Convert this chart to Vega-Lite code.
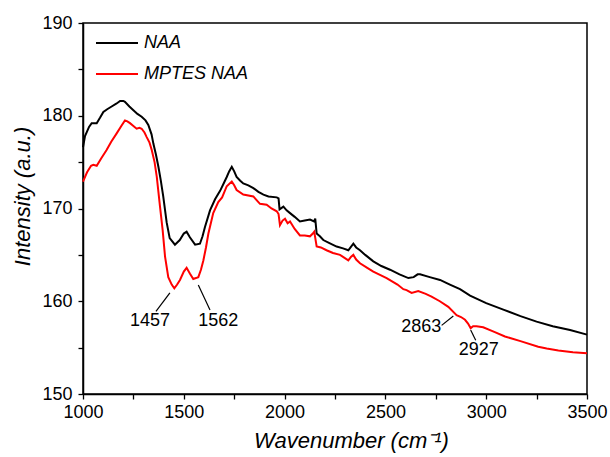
{
  "$schema": "https://vega.github.io/schema/vega-lite/v6.json",
  "width": 504,
  "height": 371,
  "autosize": {"type": "none"},
  "padding": {"left": 83, "top": 23, "right": 23, "bottom": 63},
  "background": "white",
  "config": {
    "view": {"stroke": "black", "strokeWidth": 1.5},
    "font": "Liberation Sans",
    "axis": {
      "grid": false,
      "ticks": true,
      "domainColor": "black",
      "domainWidth": 1.5,
      "tickColor": "black",
      "tickWidth": 1.3,
      "tickSize": 5,
      "labelColor": "black",
      "labelFont": "Liberation Sans",
      "labelFontSize": 18,
      "titleFont": "Liberation Sans",
      "titleFontSize": 22,
      "titleFontStyle": "italic",
      "titleFontWeight": "normal",
      "titleColor": "black"
    }
  },
  "datasets": {
    "spectra": [
      {"wn": 1000, "v": 176.6, "s": "NAA"}, {"wn": 1010, "v": 177.8, "s": "NAA"}, {"wn": 1030, "v": 178.8, "s": "NAA"},
      {"wn": 1043, "v": 179.2, "s": "NAA"}, {"wn": 1068, "v": 179.2, "s": "NAA"}, {"wn": 1085, "v": 179.8, "s": "NAA"},
      {"wn": 1101, "v": 180.4, "s": "NAA"}, {"wn": 1120, "v": 180.7, "s": "NAA"}, {"wn": 1142, "v": 181.0, "s": "NAA"},
      {"wn": 1165, "v": 181.3, "s": "NAA"}, {"wn": 1184, "v": 181.6, "s": "NAA"}, {"wn": 1200, "v": 181.6, "s": "NAA"},
      {"wn": 1208, "v": 181.5, "s": "NAA"}, {"wn": 1230, "v": 181.0, "s": "NAA"}, {"wn": 1250, "v": 180.6, "s": "NAA"},
      {"wn": 1270, "v": 180.2, "s": "NAA"}, {"wn": 1291, "v": 179.9, "s": "NAA"}, {"wn": 1310, "v": 179.5, "s": "NAA"},
      {"wn": 1324, "v": 179.0, "s": "NAA"}, {"wn": 1340, "v": 178.0, "s": "NAA"}, {"wn": 1349, "v": 177.0, "s": "NAA"},
      {"wn": 1362, "v": 175.8, "s": "NAA"}, {"wn": 1374, "v": 174.5, "s": "NAA"}, {"wn": 1386, "v": 173.0, "s": "NAA"},
      {"wn": 1398, "v": 171.3, "s": "NAA"}, {"wn": 1415, "v": 168.5, "s": "NAA"}, {"wn": 1430, "v": 166.8, "s": "NAA"},
      {"wn": 1456, "v": 166.1, "s": "NAA"}, {"wn": 1480, "v": 166.6, "s": "NAA"}, {"wn": 1500, "v": 167.3, "s": "NAA"},
      {"wn": 1514, "v": 167.5, "s": "NAA"}, {"wn": 1530, "v": 166.9, "s": "NAA"}, {"wn": 1556, "v": 166.1, "s": "NAA"},
      {"wn": 1580, "v": 166.2, "s": "NAA"}, {"wn": 1593, "v": 167.0, "s": "NAA"}, {"wn": 1605, "v": 168.0, "s": "NAA"},
      {"wn": 1630, "v": 169.8, "s": "NAA"}, {"wn": 1655, "v": 171.0, "s": "NAA"}, {"wn": 1680, "v": 171.9, "s": "NAA"},
      {"wn": 1700, "v": 172.8, "s": "NAA"}, {"wn": 1713, "v": 173.4, "s": "NAA"}, {"wn": 1725, "v": 174.0, "s": "NAA"},
      {"wn": 1738, "v": 174.5, "s": "NAA"}, {"wn": 1750, "v": 174.0, "s": "NAA"}, {"wn": 1762, "v": 173.4, "s": "NAA"},
      {"wn": 1780, "v": 173.0, "s": "NAA"}, {"wn": 1795, "v": 172.7, "s": "NAA"}, {"wn": 1820, "v": 172.5, "s": "NAA"},
      {"wn": 1845, "v": 172.2, "s": "NAA"}, {"wn": 1870, "v": 171.8, "s": "NAA"}, {"wn": 1895, "v": 171.5, "s": "NAA"},
      {"wn": 1920, "v": 171.3, "s": "NAA"}, {"wn": 1961, "v": 171.2, "s": "NAA"}, {"wn": 1970, "v": 171.1, "s": "NAA"},
      {"wn": 1975, "v": 169.9, "s": "NAA"}, {"wn": 1994, "v": 170.2, "s": "NAA"}, {"wn": 2010, "v": 169.8, "s": "NAA"},
      {"wn": 2027, "v": 169.5, "s": "NAA"}, {"wn": 2050, "v": 169.1, "s": "NAA"}, {"wn": 2076, "v": 168.6, "s": "NAA"},
      {"wn": 2100, "v": 168.7, "s": "NAA"}, {"wn": 2126, "v": 168.8, "s": "NAA"}, {"wn": 2146, "v": 168.6, "s": "NAA"},
      {"wn": 2152, "v": 168.9, "s": "NAA"}, {"wn": 2159, "v": 167.3, "s": "NAA"}, {"wn": 2175, "v": 167.0, "s": "NAA"},
      {"wn": 2192, "v": 166.6, "s": "NAA"}, {"wn": 2220, "v": 166.3, "s": "NAA"}, {"wn": 2258, "v": 165.9, "s": "NAA"},
      {"wn": 2290, "v": 165.7, "s": "NAA"}, {"wn": 2316, "v": 165.5, "s": "NAA"}, {"wn": 2330, "v": 165.9, "s": "NAA"},
      {"wn": 2341, "v": 166.2, "s": "NAA"}, {"wn": 2355, "v": 165.8, "s": "NAA"}, {"wn": 2374, "v": 165.5, "s": "NAA"},
      {"wn": 2400, "v": 165.0, "s": "NAA"}, {"wn": 2440, "v": 164.3, "s": "NAA"}, {"wn": 2480, "v": 163.8, "s": "NAA"},
      {"wn": 2523, "v": 163.4, "s": "NAA"}, {"wn": 2570, "v": 162.9, "s": "NAA"}, {"wn": 2614, "v": 162.5, "s": "NAA"},
      {"wn": 2640, "v": 162.6, "s": "NAA"}, {"wn": 2660, "v": 162.9, "s": "NAA"}, {"wn": 2672, "v": 162.9, "s": "NAA"},
      {"wn": 2720, "v": 162.6, "s": "NAA"}, {"wn": 2771, "v": 162.3, "s": "NAA"}, {"wn": 2820, "v": 161.8, "s": "NAA"},
      {"wn": 2870, "v": 161.3, "s": "NAA"}, {"wn": 2920, "v": 160.6, "s": "NAA"}, {"wn": 3000, "v": 159.8, "s": "NAA"},
      {"wn": 3085, "v": 159.1, "s": "NAA"}, {"wn": 3170, "v": 158.4, "s": "NAA"}, {"wn": 3250, "v": 157.8, "s": "NAA"},
      {"wn": 3330, "v": 157.3, "s": "NAA"}, {"wn": 3416, "v": 156.9, "s": "NAA"}, {"wn": 3500, "v": 156.4, "s": "NAA"},

      {"wn": 1000, "v": 172.9, "s": "MPTES NAA"}, {"wn": 1020, "v": 173.9, "s": "MPTES NAA"}, {"wn": 1040, "v": 174.6, "s": "MPTES NAA"},
      {"wn": 1051, "v": 174.7, "s": "MPTES NAA"}, {"wn": 1068, "v": 174.6, "s": "MPTES NAA"}, {"wn": 1090, "v": 175.4, "s": "MPTES NAA"},
      {"wn": 1117, "v": 176.3, "s": "MPTES NAA"}, {"wn": 1140, "v": 177.2, "s": "MPTES NAA"}, {"wn": 1167, "v": 178.1, "s": "MPTES NAA"},
      {"wn": 1190, "v": 178.9, "s": "MPTES NAA"}, {"wn": 1208, "v": 179.5, "s": "MPTES NAA"}, {"wn": 1220, "v": 179.4, "s": "MPTES NAA"},
      {"wn": 1233, "v": 179.2, "s": "MPTES NAA"}, {"wn": 1250, "v": 178.9, "s": "MPTES NAA"}, {"wn": 1266, "v": 178.6, "s": "MPTES NAA"},
      {"wn": 1280, "v": 178.7, "s": "MPTES NAA"}, {"wn": 1291, "v": 178.6, "s": "MPTES NAA"}, {"wn": 1305, "v": 178.2, "s": "MPTES NAA"},
      {"wn": 1316, "v": 177.7, "s": "MPTES NAA"}, {"wn": 1330, "v": 177.1, "s": "MPTES NAA"}, {"wn": 1341, "v": 176.3, "s": "MPTES NAA"},
      {"wn": 1355, "v": 175.0, "s": "MPTES NAA"}, {"wn": 1366, "v": 173.4, "s": "MPTES NAA"}, {"wn": 1382, "v": 170.2, "s": "MPTES NAA"},
      {"wn": 1395, "v": 167.7, "s": "MPTES NAA"}, {"wn": 1407, "v": 164.8, "s": "MPTES NAA"}, {"wn": 1423, "v": 162.6, "s": "MPTES NAA"},
      {"wn": 1440, "v": 161.8, "s": "MPTES NAA"}, {"wn": 1453, "v": 161.4, "s": "MPTES NAA"}, {"wn": 1467, "v": 161.8, "s": "MPTES NAA"},
      {"wn": 1481, "v": 162.3, "s": "MPTES NAA"}, {"wn": 1500, "v": 163.2, "s": "MPTES NAA"}, {"wn": 1514, "v": 163.6, "s": "MPTES NAA"},
      {"wn": 1530, "v": 163.0, "s": "MPTES NAA"}, {"wn": 1547, "v": 162.4, "s": "MPTES NAA"}, {"wn": 1560, "v": 162.5, "s": "MPTES NAA"},
      {"wn": 1572, "v": 162.6, "s": "MPTES NAA"}, {"wn": 1585, "v": 163.4, "s": "MPTES NAA"}, {"wn": 1597, "v": 164.4, "s": "MPTES NAA"},
      {"wn": 1610, "v": 165.8, "s": "MPTES NAA"}, {"wn": 1622, "v": 167.3, "s": "MPTES NAA"}, {"wn": 1646, "v": 169.5, "s": "MPTES NAA"},
      {"wn": 1671, "v": 170.7, "s": "MPTES NAA"}, {"wn": 1690, "v": 171.2, "s": "MPTES NAA"}, {"wn": 1713, "v": 172.4, "s": "MPTES NAA"},
      {"wn": 1738, "v": 172.9, "s": "MPTES NAA"}, {"wn": 1750, "v": 172.5, "s": "MPTES NAA"}, {"wn": 1762, "v": 172.0, "s": "MPTES NAA"},
      {"wn": 1795, "v": 171.5, "s": "MPTES NAA"}, {"wn": 1845, "v": 171.3, "s": "MPTES NAA"}, {"wn": 1878, "v": 170.5, "s": "MPTES NAA"},
      {"wn": 1911, "v": 170.4, "s": "MPTES NAA"}, {"wn": 1935, "v": 170.0, "s": "MPTES NAA"}, {"wn": 1961, "v": 169.7, "s": "MPTES NAA"},
      {"wn": 1970, "v": 169.4, "s": "MPTES NAA"}, {"wn": 1977, "v": 168.2, "s": "MPTES NAA"}, {"wn": 1990, "v": 168.7, "s": "MPTES NAA"},
      {"wn": 2002, "v": 168.9, "s": "MPTES NAA"}, {"wn": 2015, "v": 168.4, "s": "MPTES NAA"}, {"wn": 2027, "v": 168.6, "s": "MPTES NAA"},
      {"wn": 2050, "v": 167.8, "s": "MPTES NAA"}, {"wn": 2076, "v": 167.1, "s": "MPTES NAA"}, {"wn": 2100, "v": 167.1, "s": "MPTES NAA"},
      {"wn": 2126, "v": 167.0, "s": "MPTES NAA"}, {"wn": 2140, "v": 167.3, "s": "MPTES NAA"}, {"wn": 2147, "v": 167.5, "s": "MPTES NAA"},
      {"wn": 2159, "v": 165.9, "s": "MPTES NAA"}, {"wn": 2180, "v": 165.8, "s": "MPTES NAA"}, {"wn": 2208, "v": 165.5, "s": "MPTES NAA"},
      {"wn": 2240, "v": 165.2, "s": "MPTES NAA"}, {"wn": 2275, "v": 165.0, "s": "MPTES NAA"}, {"wn": 2316, "v": 164.4, "s": "MPTES NAA"},
      {"wn": 2330, "v": 164.8, "s": "MPTES NAA"}, {"wn": 2341, "v": 165.0, "s": "MPTES NAA"}, {"wn": 2355, "v": 164.5, "s": "MPTES NAA"},
      {"wn": 2374, "v": 164.1, "s": "MPTES NAA"}, {"wn": 2410, "v": 163.6, "s": "MPTES NAA"}, {"wn": 2440, "v": 163.2, "s": "MPTES NAA"},
      {"wn": 2506, "v": 162.5, "s": "MPTES NAA"}, {"wn": 2560, "v": 161.8, "s": "MPTES NAA"}, {"wn": 2589, "v": 161.3, "s": "MPTES NAA"},
      {"wn": 2605, "v": 161.2, "s": "MPTES NAA"}, {"wn": 2630, "v": 160.9, "s": "MPTES NAA"}, {"wn": 2663, "v": 161.1, "s": "MPTES NAA"},
      {"wn": 2700, "v": 160.8, "s": "MPTES NAA"}, {"wn": 2729, "v": 160.5, "s": "MPTES NAA"}, {"wn": 2770, "v": 160.0, "s": "MPTES NAA"},
      {"wn": 2812, "v": 159.4, "s": "MPTES NAA"}, {"wn": 2853, "v": 158.5, "s": "MPTES NAA"}, {"wn": 2875, "v": 158.3, "s": "MPTES NAA"},
      {"wn": 2895, "v": 158.0, "s": "MPTES NAA"}, {"wn": 2910, "v": 157.6, "s": "MPTES NAA"}, {"wn": 2923, "v": 157.1, "s": "MPTES NAA"},
      {"wn": 2935, "v": 157.3, "s": "MPTES NAA"}, {"wn": 2952, "v": 157.3, "s": "MPTES NAA"}, {"wn": 2985, "v": 157.2, "s": "MPTES NAA"},
      {"wn": 3040, "v": 156.7, "s": "MPTES NAA"}, {"wn": 3093, "v": 156.2, "s": "MPTES NAA"}, {"wn": 3170, "v": 155.7, "s": "MPTES NAA"},
      {"wn": 3258, "v": 155.1, "s": "MPTES NAA"}, {"wn": 3300, "v": 154.9, "s": "MPTES NAA"}, {"wn": 3358, "v": 154.7, "s": "MPTES NAA"},
      {"wn": 3430, "v": 154.5, "s": "MPTES NAA"}, {"wn": 3500, "v": 154.4, "s": "MPTES NAA"}
    ],
    "ann": [
      {"label": "1457", "x1": 1431, "y1": 160.9, "x2": 1362, "y2": 158.9, "tx": 1332, "ty": 157.9},
      {"label": "1562", "x1": 1572, "y1": 161.75, "x2": 1630, "y2": 159.06, "tx": 1671, "ty": 157.9},
      {"label": "2863", "x1": 2837, "y1": 158.4, "x2": 2779, "y2": 157.4, "tx": 2678, "ty": 157.2},
      {"label": "2927", "x1": 2923, "y1": 156.9, "x2": 2948, "y2": 155.8, "tx": 2963, "ty": 154.7}
    ]
  },
  "layer": [
    {
      "data": {"name": "spectra"},
      "mark": {"type": "line", "strokeWidth": 2, "interpolate": "linear"},
      "encoding": {
        "x": {
          "field": "wn", "type": "quantitative",
          "scale": {"domain": [1000, 3500], "nice": false, "zero": false},
          "axis": {
            "title": "Wavenumber (cm⁻¹)",
            "values": [1000, 1250, 1500, 1750, 2000, 2250, 2500, 2750, 3000, 3250, 3500],
            "labelExpr": "datum.value % 500 === 0 ? format(datum.value, 'd') : ''",
            "labelPadding": 4,
            "labelFlush": false,
            "labelOverlap": false,
            "titleX": 268,
            "titleY": 53,
            "titleBaseline": "alphabetic"
          }
        },
        "y": {
          "field": "v", "type": "quantitative",
          "scale": {"domain": [150, 190], "nice": false, "zero": false},
          "axis": {
            "title": "Intensity (a.u.)",
            "values": [150, 155, 160, 165, 170, 175, 180, 185, 190],
            "labelExpr": "datum.value % 10 === 0 ? format(datum.value, 'd') : ''",
            "labelPadding": 6,
            "labelOverlap": false,
            "titleX": -61,
            "titleY": 173,
            "titleBaseline": "middle"
          }
        },
        "color": {
          "field": "s", "type": "nominal",
          "scale": {"domain": ["NAA", "MPTES NAA"], "range": ["#000000", "#ff0000"]},
          "legend": {
            "orient": "none",
            "legendX": 12,
            "legendY": -2,
            "title": null,
            "padding": 0,
            "symbolType": "stroke",
            "symbolSize": 1764,
            "symbolStrokeWidth": 2,
            "labelFontSize": 18,
            "labelFontStyle": "italic",
            "labelFont": "Liberation Sans",
            "labelColor": "black",
            "labelOffset": 5,
            "rowPadding": -21
          }
        },
        "order": {"field": "wn", "type": "quantitative"}
      }
    },
    {
      "data": {"name": "ann"},
      "mark": {"type": "rule", "color": "black", "strokeWidth": 1.2},
      "encoding": {
        "x": {"field": "x1", "type": "quantitative"},
        "y": {"field": "y1", "type": "quantitative"},
        "x2": {"field": "x2"},
        "y2": {"field": "y2"}
      }
    },
    {
      "data": {"name": "ann"},
      "mark": {"type": "text", "fontSize": 18, "font": "Liberation Sans", "color": "black", "align": "center", "baseline": "middle"},
      "encoding": {
        "x": {"field": "tx", "type": "quantitative"},
        "y": {"field": "ty", "type": "quantitative"},
        "text": {"field": "label"}
      }
    }
  ]
}
